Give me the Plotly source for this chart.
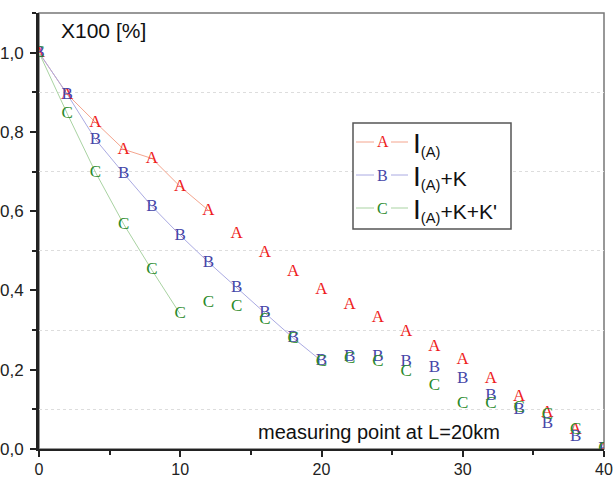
import plotly.graph_objects as go

x_km = [0, 2, 4, 6, 8, 10, 12, 14, 16, 18, 20, 22, 24, 26, 28, 30, 32, 34, 36, 38, 40]
series_a = [1.0, 0.895, 0.824, 0.756, 0.733, 0.662, 0.602, 0.544, 0.494, 0.448, 0.403,
            0.365, 0.330, 0.295, 0.259, 0.224, 0.176, 0.131, 0.091, 0.048, 0.0]
series_b = [1.0, 0.895, 0.781, 0.695, 0.612, 0.539, 0.471, 0.406, 0.343, 0.280, 0.222,
            0.232, 0.232, 0.219, 0.204, 0.176, 0.134, 0.098, 0.063, 0.030, 0.0]
series_c = [1.0, 0.846, 0.698, 0.567, 0.451, 0.340, 0.370, 0.360, 0.325, 0.277, 0.219,
            0.227, 0.219, 0.194, 0.159, 0.113, 0.113, 0.103, 0.086, 0.048, 0.0]
# number of leading points joined by a line in the original
line_len_a = 7
line_len_b = 11
line_len_c = 6

letters = ["A", "B", "C"]
names = ["I<sub>(A)</sub>", "I<sub>(A)</sub>+K", "I<sub>(A)</sub>+K+K'"]
text_colors = ["#ee1c1c", "#4646a8", "#2a8a2a"]
line_colors = ["#f4a58e", "#aaaae2", "#a9d3a2"]

fig = go.Figure()
for ys, n, lt, tc, lc in zip([series_a, series_b, series_c],
                             [line_len_a, line_len_b, line_len_c],
                             letters, text_colors, line_colors):
    fig.add_trace(go.Scatter(x=x_km[:n], y=ys[:n], mode="lines",
                             line=dict(color=lc, width=1), showlegend=False,
                             hoverinfo="skip"))
for ys, lt, tc in zip([series_a, series_b, series_c], letters, text_colors):
    fig.add_trace(go.Scatter(x=x_km, y=ys, mode="text", text=[lt] * len(x_km),
                             textposition="middle center",
                             textfont=dict(family="Liberation Serif", size=17, color=tc),
                             showlegend=False))

# plot frame (top/right border)
fig.add_shape(type="rect", xref="paper", yref="paper", x0=0, x1=1, y0=0, y1=1,
              line=dict(color="#777777", width=1.5), layer="below")

W, H = 615, 478
ml, mt, mr, mb = 39, 13, 11, 29
pw, ph = W - ml - mr, H - mt - mb
def px(xp):
    return (xp - ml) / pw
def py(yp):
    return 1 - (yp - mt) / ph

fig.add_shape(type="rect", xref="paper", yref="paper",
              x0=px(353), x1=px(511), y0=py(229), y1=py(123),
              line=dict(color="#555555", width=1.5), fillcolor="white", layer="above")
rows = [142, 175, 208]
for r, lt, tc, lc, nm in zip(rows, letters, text_colors, line_colors, names):
    for a, b in [(356, 374), (391, 408)]:
        fig.add_shape(type="line", xref="paper", yref="paper",
                      x0=px(a), x1=px(b), y0=py(r), y1=py(r),
                      line=dict(color=lc, width=1), layer="above")
    fig.add_annotation(xref="paper", yref="paper", x=px(382.5), y=py(r),
                       text=lt, showarrow=False, xanchor="center", yanchor="middle",
                       font=dict(family="Liberation Serif", size=16, color=tc))
    fig.add_annotation(xref="paper", yref="paper", x=px(411), y=py(r + 2),
                       text=nm.replace("I<sub>", "<span style='font-size:28px'>I</span><sub>"),
                       showarrow=False, xanchor="left", yanchor="middle",
                       font=dict(family="Liberation Sans", size=21, color="#111111"))

fig.add_annotation(xref="paper", yref="paper", x=px(59), y=py(31),
                   text="X100 [%]", showarrow=False, xanchor="left", yanchor="middle",
                   font=dict(family="Liberation Sans", size=21, color="#111111"))
fig.add_annotation(xref="paper", yref="paper", x=px(256), y=py(432),
                   text="measuring point at L=20km", showarrow=False,
                   xanchor="left", yanchor="middle",
                   font=dict(family="Liberation Sans", size=20, color="#111111"))

fig.update_layout(
    width=W, height=H, separators=",.",
    margin=dict(l=ml, r=mr, t=mt, b=mb),
    plot_bgcolor="white", paper_bgcolor="white",
    font=dict(family="Liberation Sans", size=17, color="#222222"),
    showlegend=False,
)
fig.update_xaxes(range=[0, 40], tick0=0, dtick=10, tickformat="d", automargin=False,
                 tickfont=dict(size=16), ticklabelstandoff=-1,
                 showgrid=False, zeroline=False,
                 showline=True, linecolor="#222222", linewidth=2,
                 ticks="outside", ticklen=6, tickwidth=2, tickcolor="#222222",
                 minor=dict(dtick=5, ticks="outside", ticklen=4, tickwidth=1.5,
                            tickcolor="#222222", showgrid=False))
fig.update_yaxes(range=[0, 1.1], tick0=0, dtick=0.2, tickformat=".1f", automargin=False,
                 showgrid=False, zeroline=False, ticklabelstandoff=3,
                 showline=True, linecolor="#222222", linewidth=3,
                 ticks="outside", ticklen=6, tickwidth=2, tickcolor="#222222",
                 minor=dict(dtick=0.1, ticks="outside", ticklen=4, tickwidth=1.5,
                            tickcolor="#222222", showgrid=True,
                            gridcolor="#dddddd", griddash="dot", gridwidth=1))

fig.write_html("out.html", config={"displayModeBar": False},
               post_script="document.body.style.margin='0';document.body.style.overflow='hidden';")
